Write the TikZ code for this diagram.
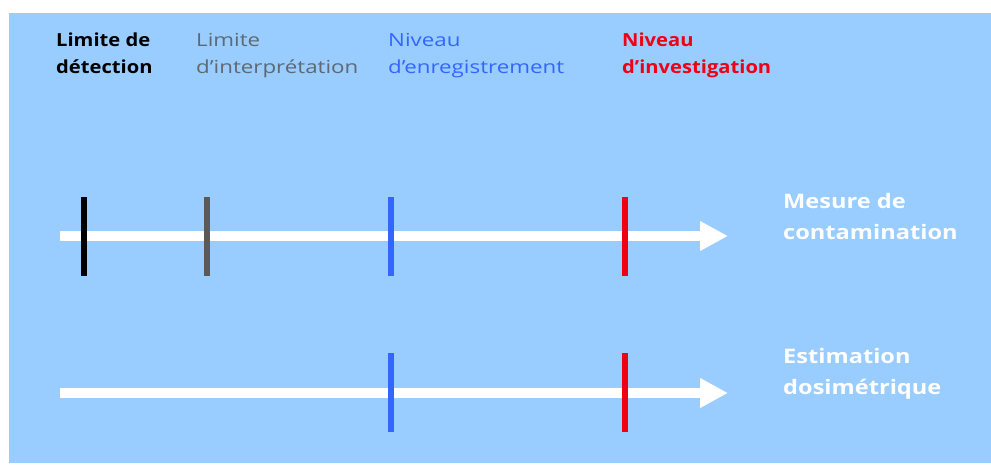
\documentclass[tikz,border=0pt]{standalone}
\usepackage{fontspec}
\setmainfont{Open Sans}
\newfontfamily\regwide[FakeStretch=1.24]{Open Sans}
\newfontfamily\boldtop[FakeStretch=1.12]{Open Sans}
\newfontfamily\boldside[FakeStretch=1.18]{Open Sans}
\usetikzlibrary{arrows.meta}
\definecolor{bgblue}{RGB}{153,204,255}
\definecolor{tickblue}{RGB}{51,102,255}
\definecolor{tickred}{RGB}{240,0,20}
\definecolor{tickgray}{RGB}{90,90,90}
\definecolor{txtgray}{RGB}{95,105,115}
\tikzset{
  axis/.style={draw=white, line width=10pt, -{Triangle[length=28pt,width=28pt]}},
  tick/.style={line width=6pt},
  toplab/.style={anchor=base west, inner sep=0pt, align=left, font=\regwide\fontsize{18}{27}\selectfont},
  toplabb/.style={anchor=base west, inner sep=0pt, align=left, font=\boldtop\fontsize{18}{27}\selectfont\bfseries},
  sidelab/.style={anchor=base west, inner sep=0pt, align=left, font=\boldside\fontsize{20}{31}\selectfont\bfseries, text=white},
}
\begin{document}
\begin{tikzpicture}[x=1pt,y=-1pt]
\useasboundingbox (0,0) rectangle (991,464);
\fill[white] (0,0) rectangle (991,464);
\fill[bgblue] (9,13) rectangle (991,463);
% axes
\coordinate (a1s) at (60,236);
\coordinate (a1e) at (728,236);
\coordinate (a2s) at (60,393);
\coordinate (a2e) at (728,393);
\draw[axis] (a1s) -- (a1e);
\draw[axis] (a2s) -- (a2e);
% ticks top
\coordinate (t1a) at (84,197); \coordinate (t1b) at (84,276);
\coordinate (t2a) at (207,197); \coordinate (t2b) at (207,276);
\coordinate (t3a) at (391,197); \coordinate (t3b) at (391,276);
\coordinate (t4a) at (625,197); \coordinate (t4b) at (625,276);
\draw[tick, black] (t1a) -- (t1b);
\draw[tick, tickgray] (t2a) -- (t2b);
\draw[tick, tickblue] (t3a) -- (t3b);
\draw[tick, tickred] (t4a) -- (t4b);
% ticks bottom
\coordinate (u3a) at (391,353); \coordinate (u3b) at (391,432);
\coordinate (u4a) at (625,353); \coordinate (u4b) at (625,432);
\draw[tick, tickblue] (u3a) -- (u3b);
\draw[tick, tickred] (u4a) -- (u4b);
% labels
\node[toplabb, text=black] (l1) at (56,73) {Limite de\\détection};
\node[toplab, text=txtgray] (l2) at (196,73) {Limite\\d’interprétation};
\node[toplab, text=tickblue] (l3) at (388,73) {Niveau\\d’enregistrement};
\node[toplabb, text=tickred] (l4) at (622,73) {Niveau\\d’investigation};
\node[sidelab] (r1) at (783,239) {Mesure de\\contamination};
\node[sidelab] (r2) at (783,394) {Estimation\\dosimétrique};
\end{tikzpicture}
\end{document}
